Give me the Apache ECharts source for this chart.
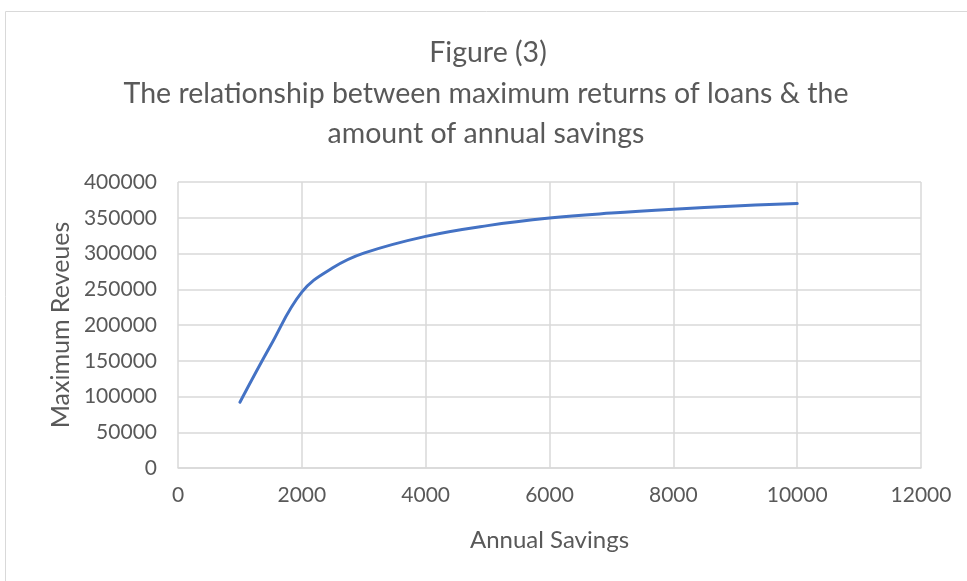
<!DOCTYPE html>
<html><head><meta charset="utf-8">
<script src="https://cdn.jsdelivr.net/npm/echarts@6/dist/echarts.min.js"></script>
<style>html,body{margin:0;padding:0;background:#fff;}#c{width:967px;height:581px;}</style>
</head><body><div id="c"></div>
<script>
var titleLines = ['Figure (3)', 'The relationship between maximum returns of loans & the', 'amount of annual savings'];
var xTitle = 'Annual Savings';
var yTitle = 'Maximum Reveues';
var savings = [1000, 1500, 2000, 2500, 3000, 4000, 5000, 6000, 7000, 8000, 9000, 10000];
var revenues = [92000, 172000, 246000, 280000, 300500, 324000, 339000, 349500, 356500, 362000, 366500, 370000];

var FONT = 'Lato, "Open Sans", sans-serif';
var chart = echarts.init(document.getElementById('c'));
chart.setOption({
  animation: false,
  graphic: [
    {type: 'rect', shape: {x: 5.5, y: 11.5, width: 1000, height: 1000}, style: {fill: 'none', stroke: '#d9d9d9', lineWidth: 1}, silent: true, z: -1}
  ],
  title: [
    {text: titleLines[0], left: 483, top: 33, textAlign: 'center', textStyle: {fontFamily: FONT, fontSize: 28.5, fontWeight: 'normal', color: '#595959'}},
    {text: titleLines[1], left: 481, top: 74, textAlign: 'center', textStyle: {fontFamily: FONT, fontSize: 28.5, fontWeight: 'normal', color: '#595959'}},
    {text: titleLines[2], left: 481, top: 114, textAlign: 'center', textStyle: {fontFamily: FONT, fontSize: 28.5, fontWeight: 'normal', color: '#595959'}}
  ],
  grid: {left: 178, right: 46, top: 182, bottom: 113, containLabel: false},
  xAxis: {
    type: 'value', min: 0, max: 12000, interval: 2000,
    name: xTitle, nameLocation: 'middle', nameGap: 60,
    nameTextStyle: {fontFamily: FONT, fontSize: 24, color: '#595959'},
    axisLine: {show: true, lineStyle: {color: '#d9d9d9', width: 1.5}},
    axisTick: {show: false},
    axisLabel: {fontFamily: FONT, fontSize: 21, color: '#595959', margin: 17, formatter: function (v) { return String(v); }},
    splitLine: {show: true, lineStyle: {color: '#d9d9d9', width: 1.5}}
  },
  yAxis: {
    type: 'value', min: 0, max: 400000, interval: 50000,
    name: yTitle, nameLocation: 'middle', nameGap: 105, nameRotate: 90,
    nameTextStyle: {fontFamily: FONT, fontSize: 25, color: '#595959'},
    axisLine: {show: false},
    axisTick: {show: false},
    axisLabel: {fontFamily: FONT, fontSize: 21, color: '#595959', margin: 21, formatter: function (v) { return String(v); }},
    splitLine: {show: true, lineStyle: {color: '#d9d9d9', width: 1.5}}
  },
  series: [{
    type: 'line', smooth: 0.4, showSymbol: false,
    data: savings.map(function (s, i) { return [s, revenues[i]]; }),
    lineStyle: {color: '#4472C4', width: 3, cap: 'round'}
  }]
});
</script></body></html>
